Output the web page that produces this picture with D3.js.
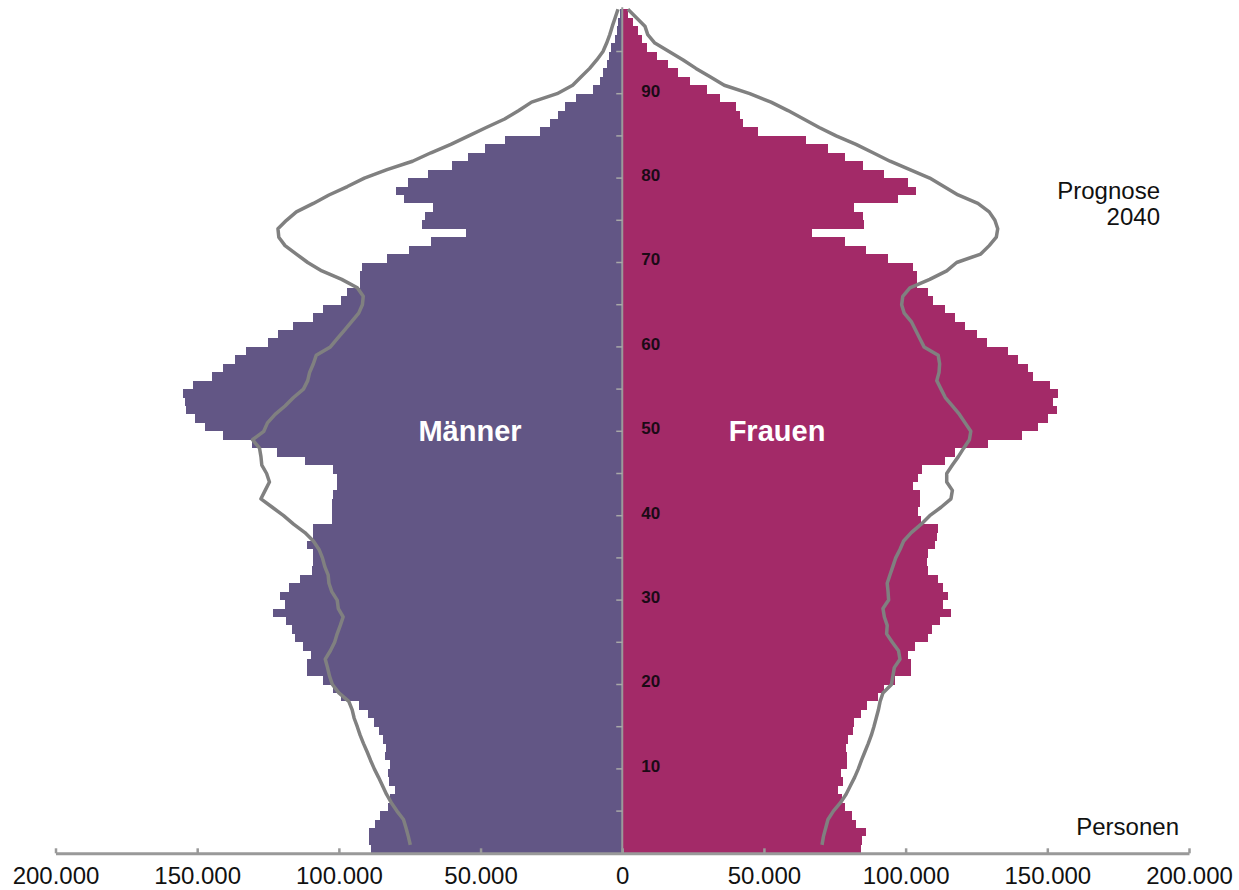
<!DOCTYPE html>
<html lang="de">
<head>
<meta charset="utf-8">
<title>Bevölkerungspyramide</title>
<script src="https://d3js.org/d3.v7.min.js"></script>
<style>
  body { margin: 0; background: #fff; }
  svg text { font-family: "Liberation Sans", Arial, sans-serif; }
  .bar-m { fill: #625685; }
  .bar-f { fill: #a32a68; }
  .prog { fill: none; stroke: #808080; stroke-width: 3.5; stroke-linejoin: round; }
  .axis path, .axis line { stroke: #999; }
  .axis path { stroke-width: 3; }
  .axis line { stroke-width: 2.5; }
  .axis text { font-size: 24px; fill: #111; }
</style>
</head>
<body>
<div id="chart"></div>
<script>
// ages 0..99 (one bar per year), values in thousands of persons
const ages = d3.range(0, 100);

const men = [
  88.5, 89.3, 89.3, 87.3, 85.5, 82.6, 82.0, 80.2, 82.2, 82.6,
  82.0, 83.8, 83.2, 84.4, 85.8, 87.6, 89.6, 92.8, 99.1, 102.2,
  105.5, 111.2, 111.2, 109.9, 112.6, 115.5, 116.7, 118.7, 123.2, 119.1,
  120.8, 117.5, 113.8, 109.6, 109.1, 109.1, 111.4, 109.1, 109.1, 102.6,
  102.6, 102.6, 102.0, 100.8, 100.8, 102.0, 112.0, 122.0, 130.8, 140.8,
  147.3, 150.8, 153.8, 154.4, 154.9, 151.4, 144.9, 140.8, 136.7, 132.6,
  124.9, 121.4, 116.1, 109.1, 105.5, 99.1, 97.3, 92.6, 92.6, 92.0,
  82.9, 75.2, 67.5, 55.2, 70.8, 69.6, 66.7, 76.9, 79.9, 75.5,
  68.5, 60.2, 54.4, 48.5, 41.4, 29.1, 25.5, 22.6, 20.2, 16.4,
  10.2, 7.9, 6.7, 5.5, 4.6, 3.8, 2.6, 2.0, 1.4, 0.8
];

const women = [
  84.2, 84.7, 85.9, 82.4, 81.0, 78.6, 77.4, 76.2, 78.0, 77.2,
  79.4, 79.4, 78.8, 79.5, 81.5, 81.9, 84.2, 86.5, 90.4, 92.5,
  96.2, 101.9, 101.9, 100.7, 103.3, 107.8, 109.2, 112.1, 116.0, 113.3,
  115.1, 113.3, 111.5, 108.0, 107.4, 108.0, 110.4, 110.9, 111.3, 105.4,
  104.5, 105.1, 105.1, 102.7, 104.5, 105.7, 113.9, 117.4, 129.0, 140.9,
  146.8, 150.4, 153.3, 152.1, 153.9, 151.0, 145.1, 143.3, 139.8, 136.2,
  128.6, 125.1, 120.9, 117.4, 113.9, 109.8, 108.0, 103.9, 103.9, 102.7,
  93.7, 85.9, 78.6, 66.8, 85.4, 85.1, 81.9, 97.2, 103.7, 100.7,
  92.5, 85.1, 78.6, 72.7, 64.7, 48.0, 42.7, 41.5, 40.0, 34.5,
  29.8, 23.9, 19.8, 16.0, 12.1, 8.6, 6.8, 5.4, 3.9, 2.1
];

// Prognose 2040, points at age 1..100
const progAges = d3.range(1, 101);

const men2040 = [
  74.8, 75.5, 76.3, 77.2, 79.5, 81.5, 83.2, 84.6, 86.0,
  87.5, 88.8, 90.0, 91.3, 92.5, 93.5, 94.6, 95.3, 96.5, 100.0,
  102.3, 103.3, 104.0, 104.8, 103.0, 101.5, 100.6, 99.5, 98.5, 100.2,
  100.6, 102.5, 103.5, 103.8, 105.0, 105.8, 107.0, 109.0, 112.0, 116.0,
  119.5, 123.5, 127.5, 126.0, 124.5, 125.5, 127.2, 127.5, 128.0, 130.5,
  126.5, 125.2, 122.5, 119.0, 116.0, 112.5, 111.0, 110.3, 109.0, 108.0,
  103.0, 100.5, 98.0, 95.5, 93.0, 91.7, 91.4, 93.5, 99.0, 106.0,
  111.0, 115.0, 119.0, 121.2, 121.5, 118.5, 115.0, 109.0, 103.5, 97.0,
  91.0, 83.0, 74.0, 67.5, 60.5, 54.2, 48.0, 41.5, 36.5, 32.0,
  23.0, 17.5, 14.5, 11.5, 9.0, 6.8, 5.5, 4.4, 3.5, 2.5, 1.5
];

const women2040 = [
  70.5, 71.0, 71.8, 72.6, 74.5, 77.0, 79.0, 80.5, 82.0,
  83.3, 84.4, 85.6, 86.8, 87.9, 88.8, 89.6, 90.4, 91.0, 92.0,
  95.0, 95.5, 96.0, 98.0, 97.5, 95.3, 93.3, 93.5, 92.5, 92.0,
  94.0, 93.8, 93.5, 94.5, 95.5, 96.5, 98.0, 99.3, 102.0, 105.5,
  108.5, 112.5, 116.0, 116.5, 114.5, 114.5, 116.5, 118.6, 120.5, 122.5,
  123.0, 121.0, 119.0, 116.5, 114.0, 112.5, 111.0, 111.8, 112.0, 111.5,
  106.5, 105.0, 103.5, 102.0, 99.5, 98.6, 99.0, 101.5, 108.5, 114.5,
  118.0, 126.5, 129.5, 132.0, 132.5, 131.5, 129.5, 125.5, 118.5, 113.5,
  108.5, 101.5, 94.5, 88.5, 82.5, 75.5, 69.5, 64.0, 58.5, 52.5,
  45.0, 36.0, 31.0, 26.0, 21.5, 16.5, 11.5, 9.0, 8.0, 5.0, 2.0
];

const xTicks = [-200, -150, -100, -50, 0, 50, 100, 150, 200];
const ageLabels = [10, 20, 30, 40, 50, 60, 70, 80, 90];
const ageTicks = [5, 10, 15, 20, 25, 30, 35, 40, 45, 50, 55, 60, 65, 70, 75, 80, 85, 90, 95];

const w = 1239, h = 890;

const x = d3.scaleLinear().domain([-200, 200]).range([55.5, 1189]);
const y = d3.scaleLinear().domain([0, 100]).range([853.3, 9.3]);

const de = d3.formatLocale({ decimal: ",", thousands: ".", grouping: [3], currency: ["", " €"] });
const fmt = de.format(",");

const svg = d3.select("#chart").append("svg")
  .attr("width", w)
  .attr("height", h);

// bars
svg.append("g").selectAll("rect")
  .data(ages)
  .join("rect")
  .attr("class", "bar-m")
  .attr("shape-rendering", "crispEdges")
  .attr("x", a => x(-men[a]))
  .attr("width", a => x(0) - x(-men[a]))
  .attr("y", a => y(a + 1))
  .attr("height", a => y(a) - y(a + 1));

svg.append("g").selectAll("rect")
  .data(ages)
  .join("rect")
  .attr("class", "bar-f")
  .attr("shape-rendering", "crispEdges")
  .attr("x", x(0))
  .attr("width", a => x(women[a]) - x(0))
  .attr("y", a => y(a + 1))
  .attr("height", a => y(a) - y(a + 1));

// centre line + age ticks
svg.append("line")
  .attr("x1", x(0)).attr("x2", x(0))
  .attr("y1", y(100) - 2).attr("y2", y(0))
  .attr("stroke", "#9a9a9a")
  .attr("stroke-width", 2);

svg.append("g").selectAll("line")
  .data(ageTicks)
  .join("line")
  .attr("x1", x(0) - 6).attr("x2", x(0))
  .attr("y1", d => y(d)).attr("y2", d => y(d))
  .attr("stroke", "#a8a8a8")
  .attr("stroke-width", 1.5);

// Prognose 2040 lines
const lineM = d3.line().x((v, i) => x(-v)).y((v, i) => y(progAges[i]));
const lineF = d3.line().x((v, i) => x(v)).y((v, i) => y(progAges[i]));

svg.append("path").attr("class", "prog").attr("d", lineM(men2040));
svg.append("path").attr("class", "prog").attr("d", lineF(women2040));

// age labels
svg.append("g").selectAll("text")
  .data(ageLabels)
  .join("text")
  .attr("x", x(0) + 19)
  .attr("y", d => y(d) - 3)
  .attr("dy", "0.35em")
  .style("font-size", "17px")
  .style("font-weight", "bold")
  .style("fill", "#1c0a16")
  .text(d => d);

// Männer / Frauen
svg.append("text")
  .attr("x", 470).attr("y", 441)
  .attr("text-anchor", "middle")
  .style("font-size", "29px").style("font-weight", "bold").style("fill", "#fff")
  .text("Männer");

svg.append("text")
  .attr("x", 777).attr("y", 441)
  .attr("text-anchor", "middle")
  .style("font-size", "29px").style("font-weight", "bold").style("fill", "#fff")
  .text("Frauen");

// Prognose label
svg.append("text")
  .attr("x", 1160).attr("y", 199)
  .attr("text-anchor", "end")
  .style("font-size", "24px").style("fill", "#111")
  .text("Prognose");

svg.append("text")
  .attr("x", 1160).attr("y", 225)
  .attr("text-anchor", "end")
  .style("font-size", "24px").style("fill", "#111")
  .text("2040");

svg.append("text")
  .attr("x", 1179).attr("y", 835)
  .attr("text-anchor", "end")
  .style("font-size", "24px").style("fill", "#111")
  .text("Personen");

// x axis
const xAxis = d3.axisBottom(x)
  .tickValues(xTicks)
  .tickSizeInner(-5)
  .tickSizeOuter(0)
  .tickPadding(14)
  .tickFormat(d => fmt(Math.abs(d) * 1000));

svg.append("g")
  .attr("class", "axis")
  .attr("transform", `translate(0, ${y(0)})`)
  .call(xAxis);
</script>
</body>
</html>
